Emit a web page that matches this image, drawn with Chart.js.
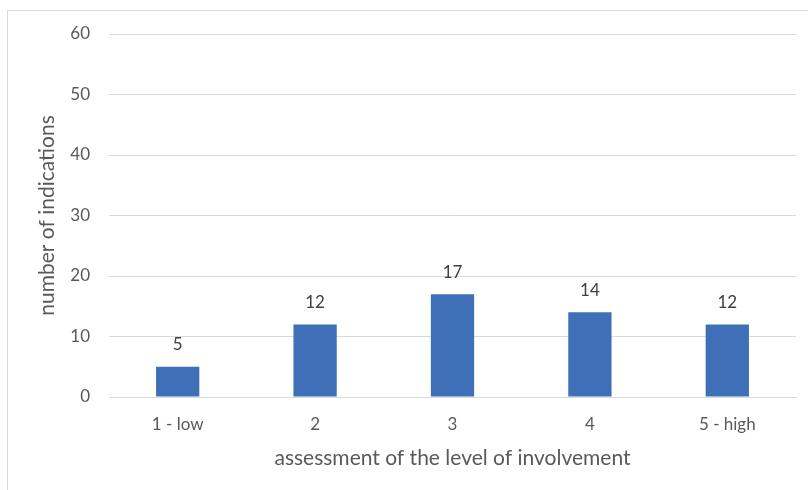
<!DOCTYPE html>
<html>
<head>
<meta charset="utf-8">
<script src="https://cdn.jsdelivr.net/npm/chart.js@4/dist/chart.umd.min.js"></script>
<style>
  html, body { margin: 0; padding: 0; background: #fff; }
  #wrap { position: relative; width: 808px; height: 490px; overflow: hidden; }
  #frame { position: absolute; left: 7px; top: 10px; width: 900px; height: 600px;
           border-left: 1px solid #d9d9d9; border-top: 1px solid #d9d9d9; box-sizing: border-box; }
  canvas { position: absolute; left: 0; top: 0; }
</style>
</head>
<body>
<div id="wrap">
  <div id="frame"></div>
  <canvas id="c" width="808" height="490"></canvas>
</div>
<script>
const categories = ['1 - low', '2', '3', '4', '5 - high'];
const indications = [5, 12, 17, 14, 12];
const yTicks = [0, 10, 20, 30, 40, 50, 60];

const FONT = 'Lato, "Open Sans", sans-serif';
const TEXT = '#595959';

// Value labels drawn above each bar
const valueLabels = {
  id: 'valueLabels',
  afterDatasetsDraw(chart) {
    const { ctx } = chart;
    const meta = chart.getDatasetMeta(0);
    ctx.save();
    ctx.font = '17px ' + FONT;
    ctx.fillStyle = '#404040';
    ctx.textAlign = 'center';
    ctx.textBaseline = 'middle';
    meta.data.forEach((bar, i) => {
      ctx.fillText(String(chart.data.datasets[0].data[i]), bar.x, bar.y - 22);
    });
    ctx.restore();
  }
};

new Chart(document.getElementById('c'), {
  type: 'bar',
  data: {
    labels: categories,
    datasets: [{
      data: indications,
      backgroundColor: '#3F70B7',
      borderWidth: 0,
      categoryPercentage: 1,
      barPercentage: 0.315
    }]
  },
  options: {
    responsive: false,
    animation: false,
    layout: { padding: { top: 34, right: 12, bottom: 0, left: 0 } },
    plugins: { legend: { display: false }, tooltip: { enabled: false } },
    scales: {
      x: {
        grid: { display: false, drawTicks: false },
        border: { color: '#d9d9d9', width: 1 },
        ticks: { color: TEXT, font: { family: FONT, size: 17 }, padding: 17, maxRotation: 0 },
        title: {
          display: true,
          text: 'assessment of the level of involvement',
          color: TEXT,
          font: { family: FONT, size: 21 },
          padding: { top: 0, bottom: 19 }
        },
        afterFit(scale) { scale.height = 93; }
      },
      y: {
        min: 0,
        max: 60,
        afterBuildTicks(scale) { scale.ticks = yTicks.map(v => ({ value: v })); },
        grid: { color: '#d9d9d9', lineWidth: 1, drawTicks: false },
        border: { display: false },
        ticks: { color: TEXT, font: { family: FONT, size: 17 }, padding: 19 },
        title: {
          display: true,
          text: 'number of indications',
          color: TEXT,
          font: { family: FONT, size: 21 },
          padding: { top: 35, bottom: 0 }
        },
        afterFit(scale) { scale.width = 109; }
      }
    }
  },
  plugins: [valueLabels]
});
</script>
</body>
</html>
